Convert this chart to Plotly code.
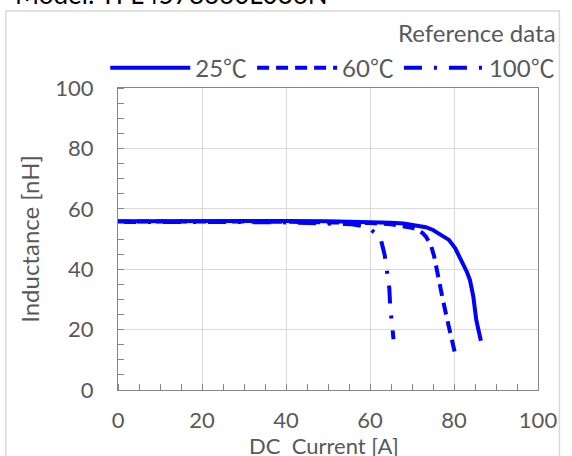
import plotly.graph_objects as go

title_text = "Model: TFL4578660L036N"
series_names = ["25<span style='font-family:Noto Sans CJK JP'>℃</span>",
                "60<span style='font-family:Noto Sans CJK JP'>℃</span>",
                "100<span style='font-family:Noto Sans CJK JP'>℃</span>"]
x_title = "DC  Current [A]"
y_title = "Inductance [nH]"

current_25 = [0, 10, 20, 30, 40, 50, 60, 65, 68, 71, 73.3, 75, 76.4, 77.8, 78.8, 80.3, 81.2, 82.2, 83.1, 83.8, 84.6, 85.3, 86.4]
induct_25 = [55.9, 56.0, 56.0, 56.0, 56.0, 55.9, 55.7, 55.4, 55.1, 54.6, 53.9, 53.0, 51.9, 50.8, 49.7, 46.9, 44.5, 41.9, 39.0, 36.4, 30.9, 23.2, 16.3]

current_60 = [0, 10, 20, 30, 40, 50, 60, 65, 68, 70, 71.4, 72.5, 73.3, 74.5, 75.3, 76.0, 77.2, 78.4, 79.3, 80.2]
induct_60 = [55.8, 55.9, 55.9, 55.8, 55.7, 55.6, 55.3, 54.9, 54.3, 53.7, 53.0, 52.0, 50.8, 48.0, 44.1, 38.6, 30.9, 23.2, 18.0, 12.4]

current_100 = [0, 10, 20, 30, 40, 50, 55.6, 58, 59.8, 61, 62.5, 63.5, 64.0, 64.6, 64.8, 65.2, 65.6]
induct_100 = [55.6, 55.7, 55.7, 55.6, 55.5, 55.3, 54.9, 54.3, 53.6, 52.2, 50.3, 44.7, 38.6, 33.7, 27.8, 21.5, 16.8]

x_ticks = [0, 20, 40, 60, 80, 100]
y_ticks = [0, 20, 40, 60, 80, 100]

FONT = "Lato, 'Noto Sans CJK JP', sans-serif"
TXT = "#595959"
BLUE = "#0000ff"

fig = go.Figure()
fig.add_trace(go.Scatter(x=current_25, y=induct_25, mode="lines", name=series_names[0],
                         line=dict(color=BLUE, width=4)))
fig.add_trace(go.Scatter(x=current_60, y=induct_60, mode="lines", name=series_names[1],
                         line=dict(color=BLUE, width=4, dash="12px,7px")))
fig.add_trace(go.Scatter(x=current_100, y=induct_100, mode="lines", name=series_names[2],
                         line=dict(color=BLUE, width=4, dash="18px,12px,3px,12px")))

axis_common = dict(
    showline=True, linecolor="#868686", linewidth=1.3, mirror=True,
    showgrid=True, gridcolor="#d9d9d9", gridwidth=1.3,
    ticks="", zeroline=False, automargin=False,
    tickfont=dict(family=FONT, size=22, color=TXT),
    minor=dict(ticks="inside", ticklen=6, tickcolor="#868686", dtick=5, showgrid=False),
)

fig.update_xaxes(range=[0, 100], tickvals=x_ticks, ticklabelstandoff=10, **axis_common)
fig.update_yaxes(range=[0, 100], tickvals=y_ticks, ticklabelstandoff=19,
                 title=dict(text=y_title, font=dict(family=FONT, size=24, color=TXT), standoff=8),
                 **axis_common)

fig.update_layout(
    width=572, height=456,
    margin=dict(l=118, r=24, t=88, b=66),
    paper_bgcolor="white", plot_bgcolor="white",
    font=dict(family=FONT, color=TXT),
    showlegend=True,
    legend=dict(orientation="h", x=1.053, xanchor="right", y=1.066, yanchor="middle",
                font=dict(family=FONT, size=24, color=TXT), itemwidth=80,
                bgcolor="rgba(0,0,0,0)", tracegroupgap=0),
    annotations=[
        dict(text="Reference data", xref="paper", yref="paper", x=1.047, y=1.185,
             xanchor="right", yanchor="middle", showarrow=False,
             font=dict(family=FONT, size=24, color=TXT)),
        dict(text=title_text, xref="paper", yref="paper", x=-0.25, y=1.25,
             xanchor="left", yanchor="bottom", showarrow=False,
             font=dict(family=FONT, size=26, color="#000000")),
        dict(text=x_title, xref="paper", yref="paper", x=0.49, y=-0.133,
             xanchor="center", yanchor="top", showarrow=False,
             font=dict(family=FONT, size=22, color=TXT)),
    ],
    shapes=[
        dict(type="rect", xref="paper", yref="paper", x0=-0.267, x1=1.051, y0=-0.3, y1=1.255,
             line=dict(color="#d9d9d9", width=1.5), layer="below"),
    ],
)

fig.write_html("out.html", config={"displayModeBar": False},
               post_script="document.body.style.margin='0';")
